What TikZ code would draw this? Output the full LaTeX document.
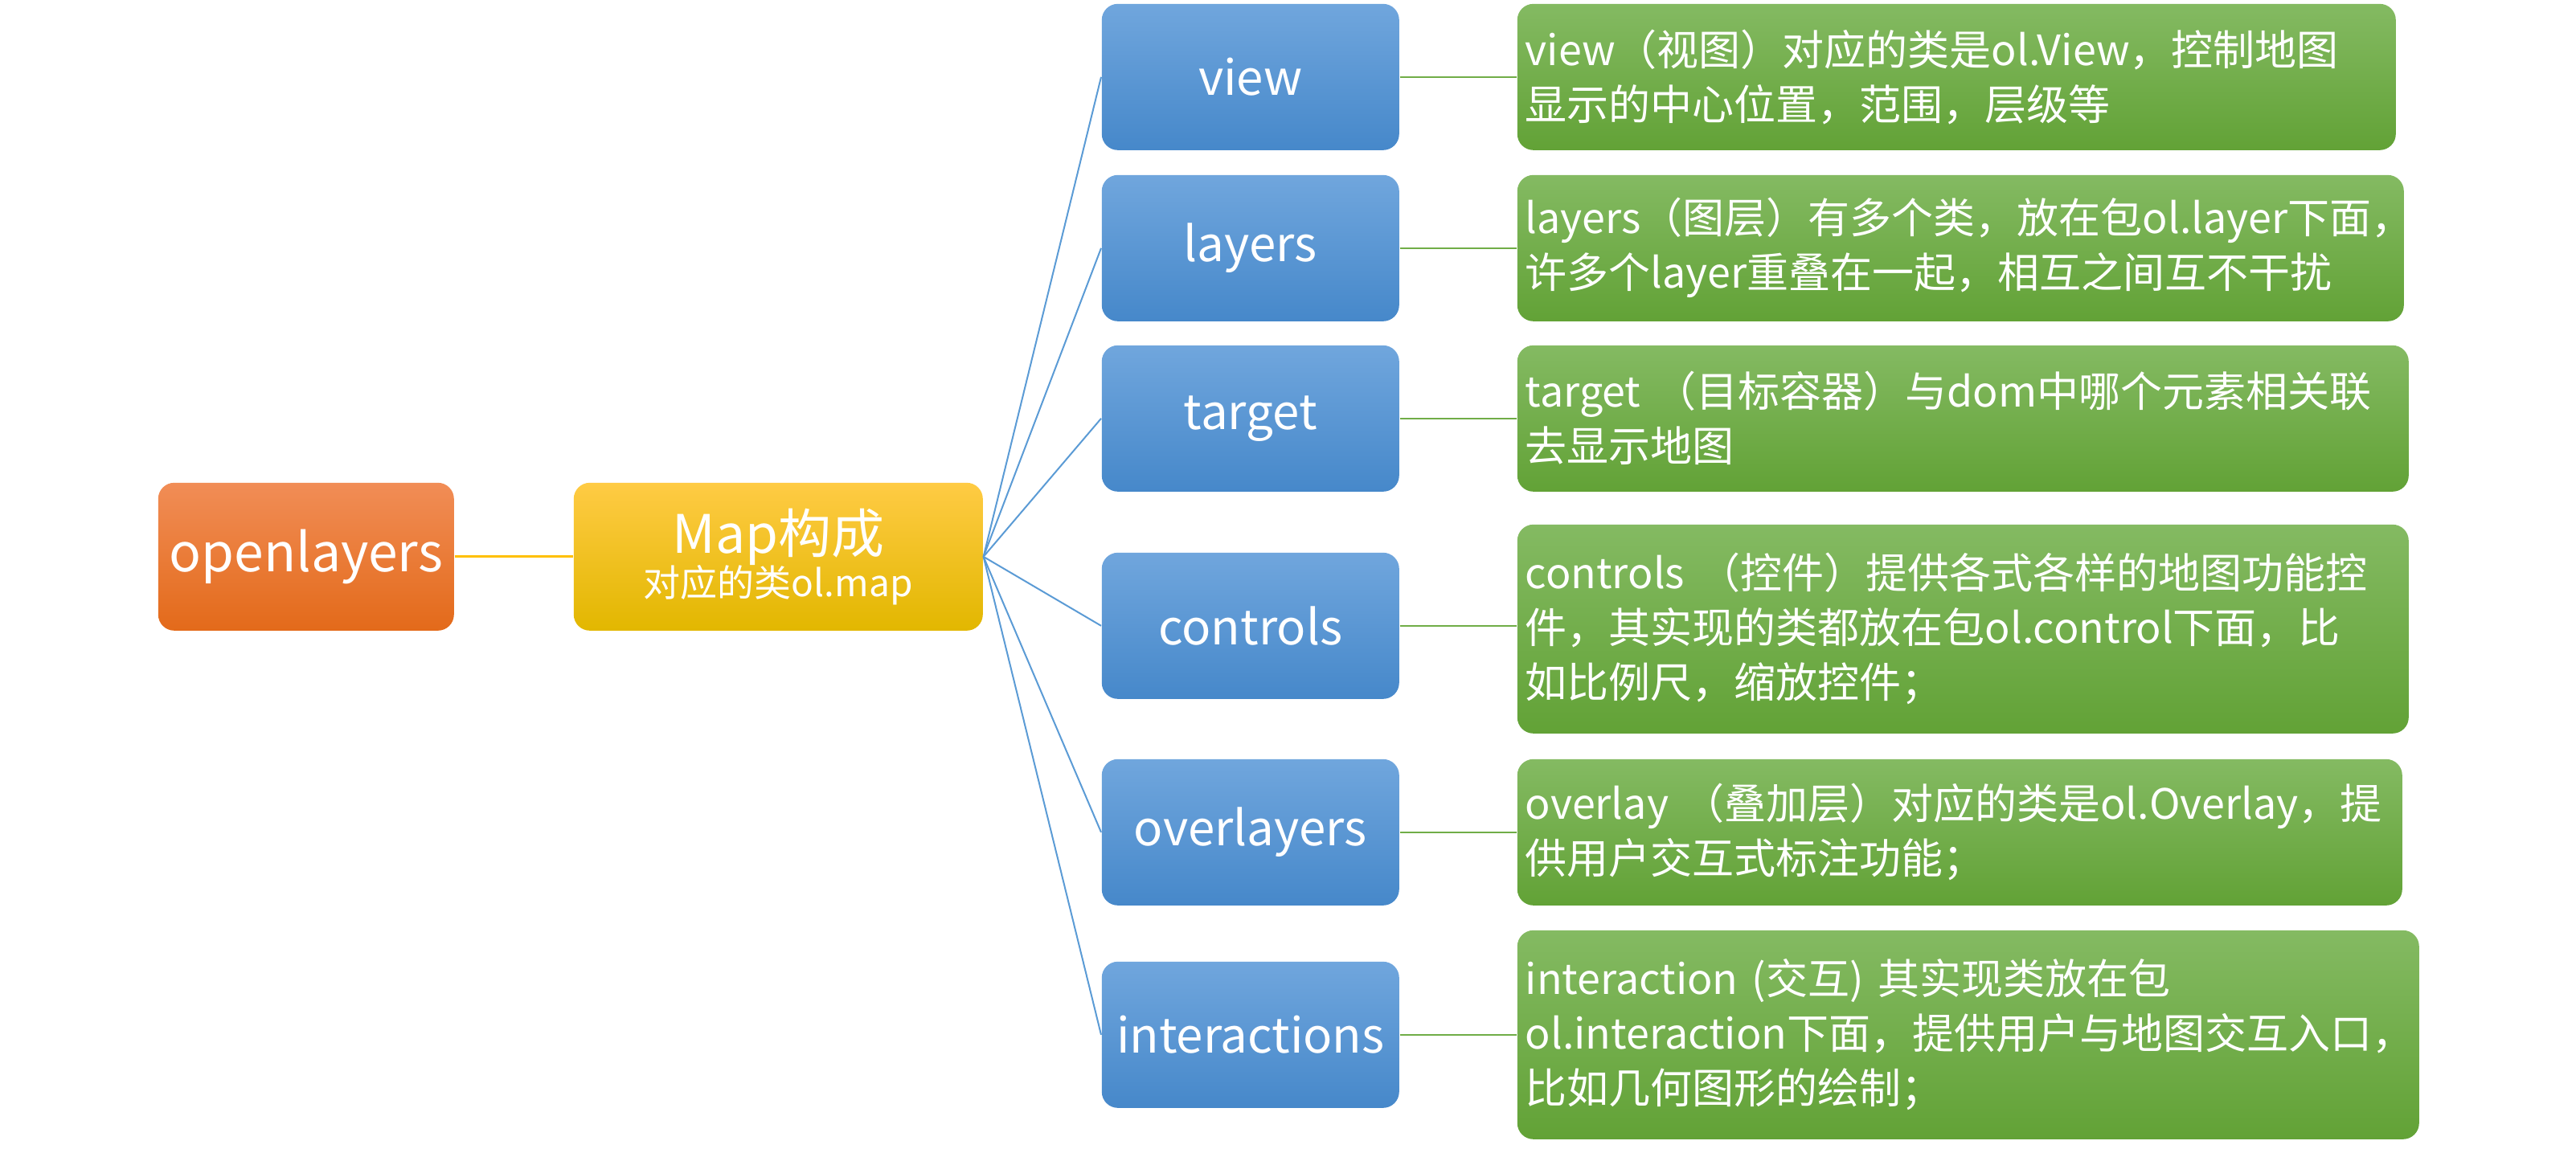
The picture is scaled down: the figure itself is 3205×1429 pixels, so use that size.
\documentclass[tikz,border=0pt]{standalone}
\usepackage{fontspec}
\setmainfont{Noto Sans CJK SC}
\definecolor{orgtop}{RGB}{241,141,86}
\definecolor{orgbot}{RGB}{227,106,26}
\definecolor{yeltop}{RGB}{255,203,68}
\definecolor{yelmid}{RGB}{255,192,0}
\definecolor{yelbot}{RGB}{226,183,0}
\definecolor{blutop}{RGB}{112,166,221}
\definecolor{blumid}{RGB}{86,152,220}
\definecolor{blubot}{RGB}{70,136,202}
\definecolor{grntop}{RGB}{132,186,98}
\definecolor{grnmid}{RGB}{112,173,71}
\definecolor{grnbot}{RGB}{98,162,54}
\definecolor{bluline}{RGB}{91,155,213}
\tikzset{
  box/.style={rounded corners=5pt, text=white, anchor=north west, inner sep=2pt},
  rootbox/.style={box, top color=orgtop, bottom color=orgbot,
    minimum width=92pt, minimum height=46pt, font=\fontsize{16.5}{20}\selectfont},
  mapbox/.style={box, top color=yeltop, middle color=yelmid, bottom color=yelbot,
    minimum width=127.25pt, minimum height=46pt, align=center},
  partbox/.style={box, top color=blutop, middle color=blumid, bottom color=blubot,
    minimum width=92.5pt, minimum height=45.5pt, font=\fontsize{15}{18}\selectfont},
  descbox/.style={box, top color=grntop, middle color=grnmid, bottom color=grnbot,
    align=left, inner xsep=2.5pt, font=\fontsize{13}{17}\selectfont},
  rootline/.style={yelmid, line width=0.75pt},
  partline/.style={bluline, line width=0.5pt},
  descline/.style={grnmid, line width=0.5pt}
}
\begin{document}
\begin{tikzpicture}[x=0.25pt, y=-0.25pt]
\useasboundingbox (0,0) rectangle (3205,1429);

\node[rootbox] (ol) at (196,600) {openlayers};
\node[mapbox] (map) at (713,600) {{\fontsize{16.5}{20}\selectfont Map构成}\\[-1pt]{\fontsize{11.5}{14}\selectfont 对应的类ol.map}};
\draw[rootline] (ol) -- (map);

\foreach \name/\lbl/\y/\gy/\gh/\gw/\desc in {
  view/view/4/4/182/1093/{view（视图）对应的类是ol.View，控制地图\\显示的中心位置，范围，层级等},
  layers/layers/217/217/182/1103/{layers（图层）有多个类，放在包ol.layer下面，\\许多个layer重叠在一起，相互之间互不干扰},
  target/target/429/429/182/1109/{target （目标容器）与dom中哪个元素相关联\\去显示地图},
  controls/controls/687/652/260/1109/{controls （控件）提供各式各样的地图功能控\\件，其实现的类都放在包ol.control下面，比\\如比例尺，缩放控件；},
  overlayers/overlayers/944/944/182/1101/{overlay （叠加层）对应的类是ol.Overlay，提\\供用户交互式标注功能；},
  interactions/interactions/1196/1157/260/1122/{interaction (交互) 其实现类放在包\\ol.interaction下面，提供用户与地图交互入口，\\比如几何图形的绘制；}}
{
    \node[partbox] (\name) at (1370,\y) {\lbl};
    \node[descbox, minimum width={\gw*0.25pt}, minimum height={\gh*0.25pt},
      text width={\gw*0.25pt-5pt}] (\name d) at (1887,\gy) {\desc};
    \draw[partline] (map.east) -- (\name.west);
    \draw[descline] (\name.east) -- (\name.east -| \name d.west);
}
\end{tikzpicture}
\end{document}
